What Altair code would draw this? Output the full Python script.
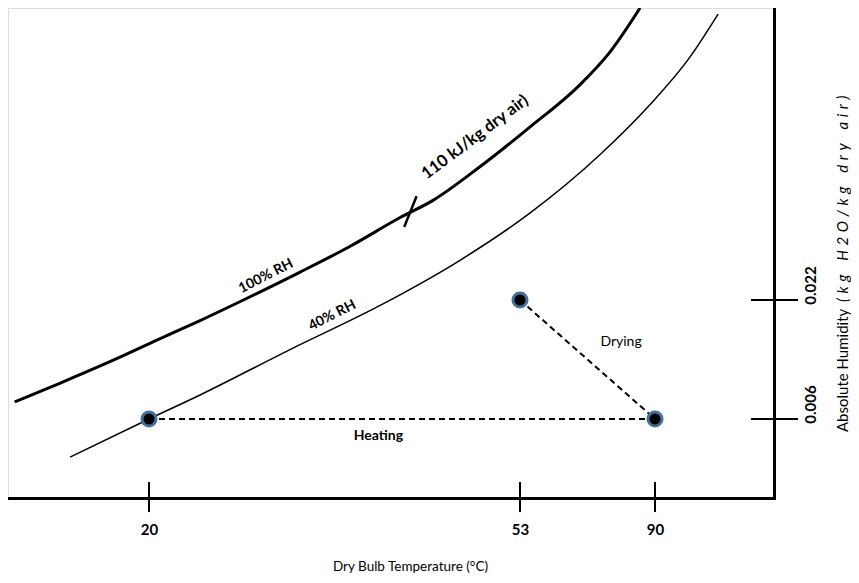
import altair as alt
import pandas as pd

# ---- scales (schematic psychrometric chart: piecewise axes) ----
x_domain = [5, 20, 53, 90, 120]
x_range = [0, 141, 512, 647, 766]
y_domain = [0, 0.006, 0.022, 0.06]
y_range = [490, 411, 292, 0]

x_ticks = [20, 53, 90]
y_ticks = [0.006, 0.022]

# ---- saturation curves ----
rh100_T = [5.7, 10.5, 16.2, 21.0, 24.5, 28.4, 33.4, 37.9, 42.3, 45.3, 49.4, 55.7, 69.4, 77.7, 85.9]
rh100_H = [0.0083, 0.0108, 0.0139, 0.0168, 0.0192, 0.0220, 0.0256, 0.0290, 0.0327, 0.0350,
           0.0393, 0.0445, 0.0500, 0.0543, 0.0600]
rh40_T = [11.6, 20.0, 24.5, 32.5, 40.6, 47.7, 55.7, 74.9, 88.6, 98.8, 105.9]
rh40_H = [0.0031, 0.0060, 0.0092, 0.0153, 0.0213, 0.0272, 0.0333, 0.0409, 0.0474, 0.0536, 0.0592]

# ---- process states and paths ----
state_T = [20, 53, 90]
state_H = [0.006, 0.022, 0.006]
path_name = ["Heating", "Drying"]
path_T1 = [20, 53]
path_H1 = [0.006, 0.022]
path_T2 = [90, 90]
path_H2 = [0.006, 0.006]

# ---- enthalpy marker on the 100% RH curve ----
enth_T1, enth_H1 = 42.7, 0.0315
enth_T2, enth_H2 = 43.8, 0.0355

# ---- text annotations ----
lab_text = ["100% RH", "40% RH", "110 kJ/kg dry air)"]
lab_T = [30.4, 36.3, 49.0]
lab_H = [0.0251, 0.0199, 0.0432]
lab_angle = [333, 333, 323]
lab_size = [14, 14, 16.5]

path_lab_T = [40.4, 80.7]
path_lab_H = [0.0047, 0.0164]
path_lab_weight = ["bold", "normal"]

y_title_main = "Absolute Humidity"
y_title_unit = "(kg H2O/kg dry air)"
x_title = "Dry Bulb Temperature (°C)"

FONT = "Lato"

# letter-spaced unit text (the original is set with wide tracking)
spaced_unit = "\u2004".join(ch if ch != " " else "\u2004" for ch in y_title_unit)

xs = alt.Scale(domain=x_domain, range=x_range, nice=False, zero=False)
ys = alt.Scale(domain=y_domain, range=y_range, nice=False, zero=False)

x_axis = alt.Axis(values=x_ticks, format="d", title=x_title,
                  domainColor="black", domainWidth=3, domainCap="square",
                  ticks=False, tickSize=0, grid=False,
                  labelFont=FONT, labelFontSize=15, labelFontWeight="bold", labelColor="black",
                  labelPadding=24,
                  titleFont=FONT, titleFontSize=13.5, titleFontWeight="normal", titleColor="black",
                  titleX=402, titleY=68, titleBaseline="middle", titleAlign="center")
y_axis = alt.Axis(orient="right", values=y_ticks, format=".3f", title=None,
                  domainColor="black", domainWidth=3, domainCap="square",
                  ticks=False, tickSize=0, grid=False,
                  labelFont=FONT, labelFontSize=15, labelFontWeight="bold", labelColor="black",
                  labelAngle=270, labelAlign="center", labelBaseline="top",
                  labelPadding=29, labelOffset=-15)

X = alt.X("T:Q", scale=xs, axis=x_axis)
Y = alt.Y("H:Q", scale=ys, axis=y_axis)

df100 = pd.DataFrame({"T": rh100_T, "H": rh100_H})
df40 = pd.DataFrame({"T": rh40_T, "H": rh40_H})

c100 = alt.Chart(df100).mark_line(color="black", strokeWidth=3, interpolate="monotone").encode(x=X, y=Y)
c40 = alt.Chart(df40).mark_line(color="black", strokeWidth=1.5, interpolate="monotone").encode(x=X, y=Y)

paths = pd.DataFrame({"name": path_name, "T": path_T1, "H": path_H1, "T2": path_T2, "H2": path_H2})
path_rules = alt.Chart(paths).mark_rule(color="black", strokeWidth=2, strokeDash=[6, 4]).encode(
    x=X, y=Y, x2="T2:Q", y2="H2:Q")

enth = pd.DataFrame({"T": [enth_T1], "H": [enth_H1], "T2": [enth_T2], "H2": [enth_H2]})
enth_rule = alt.Chart(enth).mark_rule(color="black", strokeWidth=2.5).encode(
    x=X, y=Y, x2="T2:Q", y2="H2:Q")

xt = pd.DataFrame({"T": x_ticks})
xtick_rules = alt.Chart(xt).mark_rule(color="black", strokeWidth=2).encode(
    x=X, y=alt.value(474), y2=alt.value(504))
yt = pd.DataFrame({"H": y_ticks})
ytick_rules = alt.Chart(yt).mark_rule(color="black", strokeWidth=2).encode(
    y=Y, x=alt.value(743), x2=alt.value(790))

states = pd.DataFrame({"T": state_T, "H": state_H})
pts = alt.Chart(states).mark_circle(color="black", opacity=1, stroke="#41719c", strokeWidth=3,
                                     size=196).encode(x=X, y=Y)

labs = pd.DataFrame({"text": lab_text, "T": lab_T, "H": lab_H, "angle": lab_angle, "size": lab_size})
curve_labels = alt.Chart(labs).mark_text(font=FONT, fontWeight="bold", color="black",
                                         align="center", baseline="middle").encode(
    x=X, y=Y, text="text:N", angle=alt.Angle("angle:Q", scale=None),
    size=alt.Size("size:Q", scale=None, legend=None))

plabs = pd.DataFrame({"text": path_name, "T": path_lab_T, "H": path_lab_H, "w": path_lab_weight})
path_labels = alt.layer(
    alt.Chart(plabs).transform_filter(alt.datum.w == "bold").mark_text(
        font=FONT, fontSize=14, fontWeight="bold", color="black").encode(x=X, y=Y, text="text:N"),
    alt.Chart(plabs).transform_filter(alt.datum.w == "normal").mark_text(
        font=FONT, fontSize=14, fontWeight="normal", color="black").encode(x=X, y=Y, text="text:N"),
)

ytitle_main = alt.Chart(pd.DataFrame({"t": [y_title_main]})).mark_text(
    font=FONT, fontSize=15, color="black", angle=270, align="left", baseline="middle").encode(
    text="t:N", x=alt.value(835), y=alt.value(424))
ytitle_unit = alt.Chart(pd.DataFrame({"t": [spaced_unit]})).mark_text(
    font=FONT, fontSize=15, fontStyle="italic", color="black", angle=270, align="left",
    baseline="middle").encode(text="t:N", x=alt.value(835), y=alt.value(294))

chart = alt.layer(
    c100, c40, path_rules, enth_rule, xtick_rules, ytick_rules, pts,
    curve_labels, path_labels, ytitle_main, ytitle_unit
).properties(
    width=766, height=490,
    autosize=alt.AutoSizeParams(type="none"),
    padding={"left": 0, "top": 0, "right": 77, "bottom": 76},
).configure_view(stroke=None).configure(background="white")

chart.save("out.html", embed_options={"renderer": "svg", "actions": False})
